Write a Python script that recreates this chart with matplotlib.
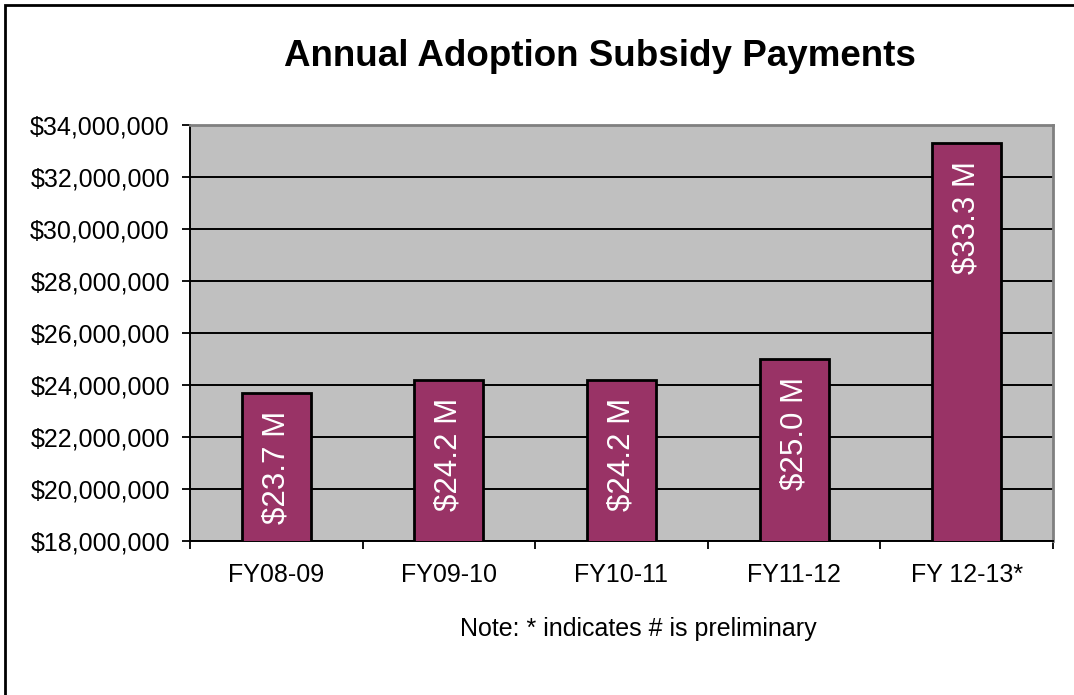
import numpy as np
import matplotlib.pyplot as plt
from matplotlib.ticker import FuncFormatter, FixedLocator
from matplotlib.patches import Rectangle

plt.rcParams["font.family"] = ["Liberation Sans", "DejaVu Sans"]

# Annual payments (dollars)
years = ["FY08-09", "FY09-10", "FY10-11", "FY11-12", "FY 12-13*"]
payments = [23.7e6, 24.2e6, 24.2e6, 25.0e6, 33.3e6]
y_ticks = [18e6, 20e6, 22e6, 24e6, 26e6, 28e6, 30e6, 32e6, 34e6]

BAR_COLOR = "#993366"
PLOT_BG = "#C0C0C0"

fig = plt.figure(figsize=(10.74, 6.95), dpi=100)
ax = fig.add_axes([190 / 1074, 154 / 695, 863 / 1074, 416 / 695])
ax.set_facecolor(PLOT_BG)

x = np.arange(len(years))
bars = ax.bar(x, payments, width=0.40, color=BAR_COLOR, edgecolor="black",
              linewidth=2.0, zorder=3)

# value labels, rotated, just inside the top of each bar
for xi, v in zip(x, payments):
    ax.annotate(f"${v / 1e6:.1f} M", (xi, v), xytext=(0, -13),
                textcoords="offset points", rotation=90, ha="center", va="top",
                color="white", fontsize=22.5, zorder=4)

ax.set_ylim(18e6, 34e6)
ax.set_xlim(-0.5, len(years) - 0.5)
ax.yaxis.set_major_locator(FixedLocator(y_ticks))
ax.yaxis.set_major_formatter(FuncFormatter(lambda v, p: f"${v:,.0f}"))
ax.yaxis.grid(True, color="black", linewidth=1.4, zorder=1)
ax.set_axisbelow(True)

ax.set_xticks(x)
ax.set_xticklabels(years)
ax.set_xticks(np.arange(len(years) + 1) - 0.5, minor=True)
ax.tick_params(axis="x", which="major", length=0, pad=16, labelsize=18)
ax.tick_params(axis="x", which="minor", length=5.5, width=1.3, direction="out")
ax.tick_params(axis="y", which="major", length=5.5, width=1.3, direction="out",
               pad=9, labelsize=18)

for side in ("left", "bottom"):
    ax.spines[side].set_color("black")
    ax.spines[side].set_linewidth(1.4)
for side in ("top", "right"):
    ax.spines[side].set_color("#808080")
    ax.spines[side].set_linewidth(2.0)

fig.text(600 / 1074, 1 - 56 / 695, "Annual Adoption Subsidy Payments",
         ha="center", va="center", fontsize=26.5, fontweight="bold")
fig.text(638 / 1074, 1 - 629 / 695, "Note: * indicates # is preliminary",
         ha="center", va="center", fontsize=18)

# chart frame (left and top edges)
fig.patches.append(Rectangle((5 / 1074, -0.1), 1.2, 1 - 5 / 695 + 0.1,
                             transform=fig.transFigure, fill=False,
                             edgecolor="black", linewidth=2.0))

fig.savefig("out.png", dpi=100)
